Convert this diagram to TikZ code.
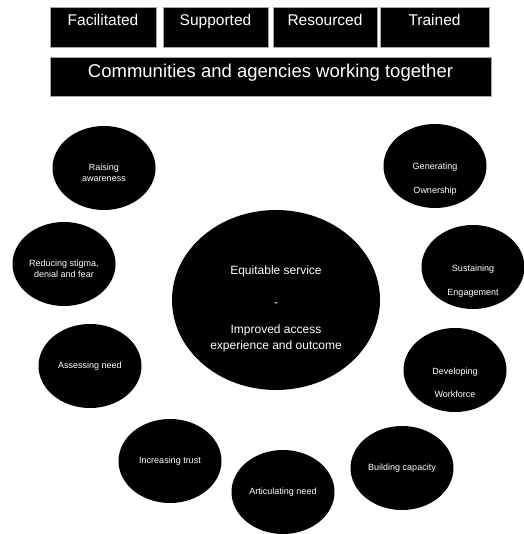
\documentclass[tikz,border=0pt]{standalone}
\usepackage{fontspec}
\setmainfont{Liberation Sans}
\usetikzlibrary{shapes.geometric}

\begin{document}
\begin{tikzpicture}[x=1pt,y=-1pt,
	topbox/.style={fill=black,draw=black!35,line width=0.8pt,text=white,inner sep=0pt,font=\fontsize{15.5}{18}\selectfont},
	blob/.style={ellipse,fill=black,inner sep=0pt,minimum width=103pt,minimum height=84pt},
	blobtxt/.style={text=white,align=center,inner sep=0pt,font=\fontsize{9}{11}\selectfont}]
\useasboundingbox (0,0) rectangle (523,534);
% top row
\node[topbox,minimum width=106pt,text height=19pt,text depth=21pt] (fac) at (103,27) {Facilitated};
\node[topbox,minimum width=105pt,text height=19pt,text depth=21pt] (sup) at (215.5,27) {Supported};
\node[topbox,minimum width=104pt,text height=19pt,text depth=21pt] (res) at (325,27) {Resourced};
\node[topbox,minimum width=109pt,text height=19pt,text depth=21pt] (tra) at (434.5,27) {Trained};
\node[topbox,minimum width=441pt,text height=21pt,text depth=18pt,font=\fontsize{18.5}{22}\selectfont] (comm) at (270.5,76.5) {Communities and agencies working together};
% middle
\node[blob,minimum width=208pt,minimum height=180pt] (equ) at (276,300) {};
\node[blobtxt,font=\fontsize{12}{16}\selectfont] (equ-t) at ([yshift=-9pt]equ.center) {Equitable service\\[16pt]-\\[11pt]Improved access\\experience and outcome};
% ring
\foreach \nm/\cx/\cy/\dy/\txt in {
	raise/104/168/5/{Raising\\awareness},
	reduce/64/264/5/{Reducing stigma,\\denial and fear},
	assess/90/366/0/{Assessing need},
	trust/170/461/0/{Increasing trust},
	artic/283/492/0/{Articulating need},
	build/402/468/0/{Building capacity},
	devel/455/370/13/{Developing\\[12pt]Workforce},
	sustain/473/267/14/{Sustaining\\[13pt]Engagement},
	gen/435/166/13/{Generating\\[13pt]Ownership}}{
	\node[blob] (\nm) at (\cx,\cy) {};
	\node[blobtxt] (\nm-t) at ([yshift=-\dy pt]\nm.center) {\txt};
}
\end{tikzpicture}
\end{document}
